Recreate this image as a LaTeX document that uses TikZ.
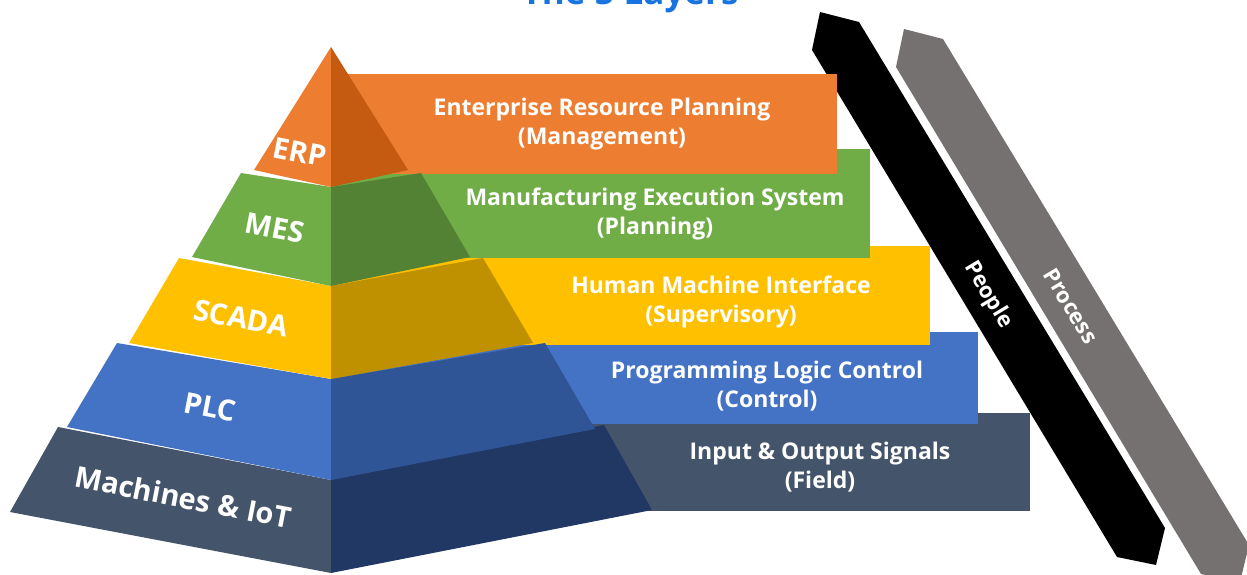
\documentclass[tikz,border=0pt]{standalone}
\usepackage{fontspec}
\setmainfont{Open Sans}

\definecolor{erpL}{HTML}{ED7D31}
\definecolor{erpR}{HTML}{C55A11}
\definecolor{mesL}{HTML}{70AD47}
\definecolor{mesR}{HTML}{548235}
\definecolor{scaL}{HTML}{FFC000}
\definecolor{scaR}{HTML}{BF9000}
\definecolor{plcL}{HTML}{4472C4}
\definecolor{plcR}{HTML}{2F5597}
\definecolor{iotL}{HTML}{44546A}
\definecolor{iotR}{HTML}{213764}
\definecolor{procG}{HTML}{767171}
\definecolor{ttlB}{HTML}{1874E0}

\begin{document}
\begin{tikzpicture}[x=1pt,y=-1pt,
  bandtxt/.style={text=white,align=center,font=\bfseries\fontsize{23}{29}\selectfont},
  facetxt/.style={text=white,rotate=-11,font=\bfseries\fontsize{29}{32}\selectfont},
  bartxt/.style={text=white,rotate=-59,font=\bfseries\fontsize{22}{24}\selectfont}]
  \useasboundingbox (0,0) rectangle (1247,575);
  \clip (0,0) rectangle (1247,575);

  % title, cut by the top edge
  \node[anchor=base,text=ttlB,font=\bfseries\fontsize{35}{40}\selectfont] (ttl) at (630,5) {The 5 Layers};

  % People / Process bars
  \fill[black] (812,50) -- (820,12) -- (859,22) -- (1165,528) -- (1156,565) -- (1117,557) -- cycle;
  \fill[procG] (896,67) -- (904,29) -- (943,39) -- (1249,545) -- (1240,582) -- (1201,574) -- cycle;
  \node[bartxt] (people) at (988,295) {People};
  \node[bartxt] (process) at (1071,306) {Process};

  % layer bands behind the pyramid
  \fill[iotL] (331,413) rectangle (1030,511);
  \fill[plcL] (331,332) rectangle (978,424);
  \fill[scaL] (331,246) rectangle (930,345);
  \fill[mesL] (331,149) rectangle (870,258);
  \fill[erpL] (331,74) rectangle (837,174);

  \node[bandtxt] (erp) at (602,124) {Enterprise Resource Planning\\(Management)};
  \node[bandtxt] (mes) at (655,214) {Manufacturing Execution System\\(Planning)};
  \node[bandtxt] (hmi) at (721,302) {Human Machine Interface\\(Supervisory)};
  \node[bandtxt] (plc) at (767,386) {Programming Logic Control\\(Control)};
  \node[bandtxt] (io) at (820,467) {Input \& Output Signals\\(Field)};

  % pyramid, bottom layer first
  \fill[iotL] (58,427) -- (331,480) -- (331,573) -- (10,512) -- cycle;
  \fill[iotR] (331,480) -- (604,425) -- (652,510) -- (331,573) -- cycle;
  \fill[plcL] (117,343) -- (331,379) -- (331,480) -- (67,427) -- cycle;
  \fill[plcR] (331,379) -- (545,343) -- (595,429) -- (331,480) -- cycle;
  \fill[scaL] (179,258) -- (331,286) -- (331,379) -- (129,343) -- cycle;
  \fill[scaR] (331,286) -- (483,258) -- (533,343) -- (331,379) -- cycle;
  \fill[mesL] (241,173) -- (331,187) -- (331,286) -- (192,257) -- cycle;
  \fill[mesR] (331,187) -- (421,173) -- (470,257) -- (331,286) -- cycle;
  \fill[erpL] (331,47) -- (331,187) -- (254,170) -- cycle;
  \fill[erpR] (331,47) -- (408,170) -- (331,187) -- cycle;

  \node[facetxt] (erpf) at (300,152) {ERP};
  \node[facetxt] (mesf) at (275,228) {MES};
  \node[facetxt] (scaf) at (241,318) {SCADA};
  \node[facetxt] (plcf) at (210,407) {PLC};
  \node[facetxt] (iotf) at (183,497) {Machines \& IoT};
\end{tikzpicture}
\end{document}
